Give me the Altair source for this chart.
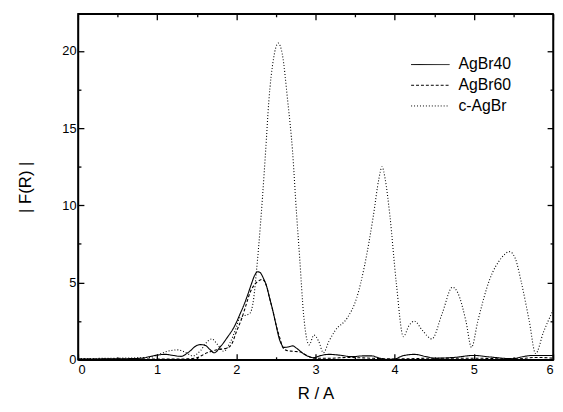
import altair as alt
import pandas as pd

# ---- data ----
r_40 = [0.0, 0.5, 0.8, 0.9, 1.0, 1.1, 1.2, 1.3, 1.4, 1.5, 1.55, 1.6, 1.67, 1.72, 1.8, 1.88, 1.98,
        2.05, 2.1, 2.15, 2.19, 2.23, 2.27, 2.3, 2.34, 2.38, 2.42, 2.46, 2.5, 2.54, 2.57, 2.6, 2.65,
        2.71, 2.76, 2.85, 2.92, 2.98, 3.05, 3.17, 3.3, 3.46, 3.6, 3.71, 3.8, 3.9, 4.0, 4.1, 4.25,
        4.4, 4.5, 4.75, 5.0, 5.2, 5.49, 5.6, 5.74, 6.0]
f_40 = [0.05, 0.06, 0.1, 0.2, 0.3, 0.35, 0.28, 0.22, 0.5, 0.92, 0.98, 0.95, 0.65, 0.45, 0.85, 1.4, 2.2,
        3.0, 3.6, 4.3, 4.9, 5.45, 5.7, 5.65, 5.3, 4.8, 4.0, 3.2, 2.3, 1.4, 1.0, 0.8, 0.82,
        0.9, 0.75, 0.38, 0.2, 0.13, 0.25, 0.35, 0.3, 0.2, 0.25, 0.25, 0.12, 0.02, 0.05, 0.25, 0.35,
        0.2, 0.1, 0.15, 0.28, 0.18, 0.07, 0.18, 0.28, 0.28]

r_60 = [0.0, 1.0, 1.3, 1.48, 1.63, 1.76, 1.88, 1.94, 2.0, 2.07, 2.12, 2.17, 2.22, 2.28, 2.33, 2.38,
        2.42, 2.46, 2.5, 2.55, 2.59, 2.65, 2.71, 2.81, 2.9, 3.0, 3.2, 3.4, 3.6, 3.8, 4.0, 4.5, 5.0,
        5.5, 5.8, 6.0]
f_60 = [0.05, 0.05, 0.05, 0.1, 0.45, 0.65, 0.75, 1.0, 1.8, 2.7, 3.5, 4.3, 4.8, 5.1, 5.2, 4.8,
        4.0, 3.2, 2.3, 1.4, 0.77, 0.58, 0.55, 0.5, 0.25, 0.1, 0.1, 0.15, 0.12, 0.08, 0.05, 0.1, 0.1,
        0.05, 0.15, 0.1]

r_c = [0.0, 0.5, 0.9, 1.0, 1.1, 1.26, 1.35, 1.45, 1.55, 1.62, 1.69, 1.76, 1.84, 1.92, 2.0, 2.04,
       2.1, 2.17, 2.22, 2.25, 2.28, 2.33, 2.37, 2.41, 2.47, 2.53, 2.58, 2.65, 2.71, 2.76, 2.8, 2.85,
       2.92, 2.98, 3.04, 3.1, 3.17, 3.25, 3.4, 3.52, 3.62, 3.73, 3.8, 3.84, 3.88, 3.94, 4.02, 4.11,
       4.18, 4.25, 4.35, 4.47, 4.6, 4.73, 4.8, 4.9, 4.97, 5.05, 5.2, 5.35, 5.45, 5.52, 5.6, 5.7,
       5.78, 5.88, 6.0]
f_c = [0.08, 0.1, 0.15, 0.3, 0.5, 0.64, 0.5, 0.25, 0.6, 1.1, 1.35, 1.0, 0.55, 1.1, 2.1, 2.7,
       2.85, 3.0, 4.0, 5.5, 7.2, 10.5, 13.5, 16.7, 19.5, 20.5, 19.8, 16.7, 13.5, 9.5, 6.6, 2.9,
       0.96, 1.6, 1.2, 0.45, 1.2, 1.9, 2.7, 4.0, 6.1, 9.3, 11.7, 12.5, 11.7, 9.3, 5.0, 1.5,
       2.2, 2.5, 1.9, 1.35, 3.0, 4.7, 4.3, 2.5, 0.8, 2.5, 5.2, 6.6, 7.0, 6.6, 5.0, 2.5,
       0.4, 1.8, 3.2]

series_names = ["AgBr40", "AgBr60", "c-AgBr"]
dash_styles = [[1, 0], [3, 2], [1, 2]]

x_ticks = [0, 0.5, 1, 1.5, 2, 2.5, 3, 3.5, 4, 4.5, 5, 5.5, 6]
y_ticks = [0, 2.5, 5, 7.5, 10, 12.5, 15, 17.5, 20]

rows = []
for name, rs, fs in zip(series_names, [r_40, r_60, r_c], [f_40, f_60, f_c]):
    for r, f in zip(rs, fs):
        rows.append({"R": r, "F": f, "series": name})
df = pd.DataFrame(rows)

major_x = "datum.value % 1 === 0"
major_y = "datum.value % 5 === 0"

xscale = alt.Scale(domain=[0, 6], nice=False, zero=False)
yscale = alt.Scale(domain=[0, 22.4], nice=False, zero=False)

dash = alt.StrokeDash(
    "series:N",
    scale=alt.Scale(domain=series_names, range=dash_styles),
    legend=alt.Legend(
        orient="none", legendX=348, legendY=42, title=None, padding=0,
        symbolType="M-2.25,0L2.25,0", symbolSize=300, symbolStrokeWidth=1,
        symbolStrokeColor="black", labelFontSize=16, labelFont="Liberation Sans",
        labelColor="black", rowPadding=3, labelOffset=19,
    ),
)

base = alt.Chart(df)

lines = base.mark_line(color="black", strokeWidth=1.1, interpolate="monotone").encode(
    x=alt.X("R:Q", scale=xscale, title="R  /  A",
            axis=alt.Axis(values=x_ticks,
                          labelExpr=f"{major_x} ? format(datum.value, 'd') : ''",
                          tickSize={"condition": {"test": major_x, "value": -6}, "value": -3},
                          labelPadding=10, grid=False,
                          titleX=241, titleY=34, titleBaseline="middle", titleAlign="center")),
    y=alt.Y("F:Q", scale=yscale, title="|  F(R)  |",
            axis=alt.Axis(values=y_ticks,
                          labelExpr=f"{major_y} ? format(datum.value, 'd') : ''",
                          tickSize={"condition": {"test": major_y, "value": -6}, "value": -3},
                          labelPadding=8, grid=False,
                          titleX=-53, titleY=175.5, titleAngle=-90,
                          titleBaseline="middle", titleAlign="center")),
    strokeDash=dash,
    detail="series:N",
)

frame = base.mark_line(opacity=0).encode(
    x=alt.X("R:Q", scale=xscale, title=None,
            axis=alt.Axis(orient="top", values=x_ticks, labels=False,
                          tickSize={"condition": {"test": major_x, "value": -6}, "value": -3},
                          grid=False)),
    y=alt.Y("F:Q", scale=yscale, title=None,
            axis=alt.Axis(orient="right", values=y_ticks, labels=False,
                          tickSize={"condition": {"test": major_y, "value": -6}, "value": -3},
                          grid=False)),
    detail="series:N",
)

chart = alt.layer(lines, frame).resolve_axis(x="independent", y="independent").properties(
    width=482, height=351,
    autosize=alt.AutoSizeParams(type="none"),
    padding={"left": 71, "top": 3, "right": 2, "bottom": 42},
).configure_axis(
    domainColor="black", domainWidth=1.5, tickColor="black", tickWidth=1.3,
    labelColor="black", labelFont="Liberation Sans", labelFontSize=13,
    titleColor="black", titleFont="Liberation Sans", titleFontSize=17, titleFontWeight="normal",
).configure_view(stroke="black", strokeWidth=1.5)

chart.save("out.html", embed_options={"renderer": "svg", "actions": False})
